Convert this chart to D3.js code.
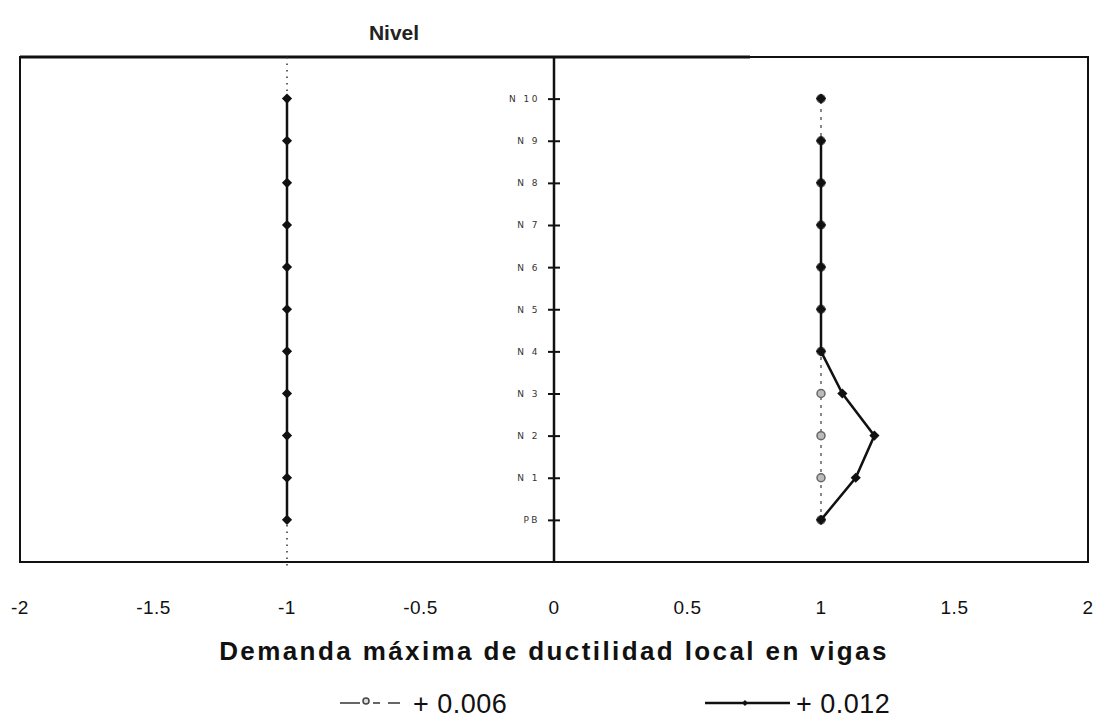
<!DOCTYPE html>
<html><head><meta charset="utf-8">
<script src="https://cdn.jsdelivr.net/npm/d3@7/dist/d3.min.js"></script>
<style>body{margin:0;background:#fff}</style>
</head><body>
<svg id="c" width="1107" height="718"></svg>
<script>
const levels = ["PB","N 1","N 2","N 3","N 4","N 5","N 6","N 7","N 8","N 9","N 10"];
const xTicks = [-2,-1.5,-1,-0.5,0,0.5,1,1.5,2];
const xTickLabels = ["-2","-1.5","-1","-0.5","0","0.5","1","1.5","2"];
// +0.006 series (positive side)
const s006 = [1.0,1.0,1.0,1.0,1.0,1.0,1.0,1.0,1.0,1.0,1.0];
// +0.012 series (positive side)
const s012 = [1.0,1.13,1.2,1.08,1.0,1.0,1.0,1.0,1.0,1.0,1.0];
// negative side values (both series)
const sNeg = [-1,-1,-1,-1,-1,-1,-1,-1,-1,-1,-1];
const legendLabels = ["+ 0.006","+ 0.012"];

const svg = d3.select("#c");
const L=20,R=1088,T=57,B=562;
const x = d3.scaleLinear().domain([-2,2]).range([L,R]);
const y = d3.scaleLinear().domain([0,12]).range([B,T-0.5]);
const FONT = "Liberation Sans, Arial, sans-serif";

// frame
svg.append("rect").attr("x",L).attr("y",T).attr("width",R-L).attr("height",B-T)
  .attr("fill","none").attr("stroke","#111").attr("stroke-width",2);
svg.append("line").attr("x1",L).attr("x2",750).attr("y1",T).attr("y2",T).attr("stroke","#111").attr("stroke-width",3);

// x axis tick labels
svg.selectAll(".xt").data(xTicks).join("text")
  .attr("x",d=>x(d)).attr("y",614).attr("text-anchor","middle")
  .attr("font-family",FONT).attr("font-size",19).attr("letter-spacing","0.5px").attr("fill","#111")
  .text((d,i)=>xTickLabels[i]);

// vertical axis at 0
const yAxis = d3.axisLeft(y).tickValues(d3.range(1,12)).tickSize(0).tickFormat((d)=>levels[d-1]);
const ag = svg.append("g").attr("transform",`translate(${x(0)},0)`).call(yAxis);
ag.select(".domain").remove();
ag.selectAll(".tick line").remove();
ag.selectAll(".tick").append("line").attr("x1",-6).attr("x2",6).attr("stroke","#111").attr("stroke-width",2);
ag.selectAll(".tick text").attr("x",-14).attr("font-family","DejaVu Sans, sans-serif").attr("font-size",9)
  .attr("letter-spacing","2.5px").attr("fill","#333");
svg.append("line").attr("x1",x(0)).attr("x2",x(0)).attr("y1",T).attr("y2",B).attr("stroke","#111").attr("stroke-width",2.5);

// dotted reference at -1
svg.append("line").attr("x1",x(-1)).attr("x2",x(-1)).attr("y1",T).attr("y2",B+4)
  .attr("stroke","#333").attr("stroke-width",1.5).attr("stroke-dasharray","1.5,5");

const line = d3.line().x(d=>x(d[0])).y(d=>y(d[1]));
const diamond = d3.symbol().type(d3.symbolSquare).size(52);

// negative side series
svg.append("path").datum(sNeg.map((v,i)=>[v,i+1])).attr("d",line)
  .attr("fill","none").attr("stroke","#111").attr("stroke-width",2.5);
svg.selectAll(".dn").data(sNeg).join("path")
  .attr("transform",(d,i)=>`translate(${x(d)},${y(i+1)}) rotate(45)`).attr("d",diamond).attr("fill","#111");

// +0.006 series
svg.append("path").datum(s006.map((v,i)=>[v,i+1])).attr("d",line)
  .attr("fill","none").attr("stroke","#888").attr("stroke-width",2).attr("stroke-dasharray","3,5");
svg.selectAll(".c6").data(s006).join("circle")
  .attr("cx",d=>x(d)).attr("cy",(d,i)=>y(i+1)).attr("r",4)
  .attr("fill","#bbb").attr("stroke","#666").attr("stroke-width",1.5);

// +0.012 series (segment N9-N10 not drawn in original)
svg.append("path").datum(s012.slice(0,10).map((v,i)=>[v,i+1])).attr("d",line)
  .attr("fill","none").attr("stroke","#111").attr("stroke-width",2.5);
svg.selectAll(".d12").data(s012).join("path")
  .attr("transform",(d,i)=>`translate(${x(d)},${y(i+1)}) rotate(45)`).attr("d",diamond).attr("fill","#111");

// title
svg.append("text").attr("x",394).attr("y",40).attr("text-anchor","middle")
  .attr("font-family",FONT).attr("font-size",21).attr("font-weight","bold")
  .attr("fill","#222").text("Nivel");

// x label
svg.append("text").attr("x",554).attr("y",660).attr("text-anchor","middle")
  .attr("font-family",FONT).attr("font-size",26).attr("font-weight","bold").attr("letter-spacing","2.4px")
  .attr("fill","#111").text("Demanda máxima de ductilidad local en vigas");

// legend
const lg = svg.append("g");
lg.append("line").attr("x1",340).attr("x2",360).attr("y1",703).attr("y2",703).attr("stroke","#333").attr("stroke-width",1.5);
lg.append("line").attr("x1",373).attr("x2",380).attr("y1",703).attr("y2",703).attr("stroke","#333").attr("stroke-width",1.5);
lg.append("line").attr("x1",388).attr("x2",400).attr("y1",703).attr("y2",703).attr("stroke","#333").attr("stroke-width",1.5);
lg.append("circle").attr("cx",366).attr("cy",701).attr("r",3).attr("fill","#ddd").attr("stroke","#444").attr("stroke-width",1.5);
lg.append("text").attr("x",413).attr("y",713).attr("font-family",FONT)
  .attr("font-size",27).attr("letter-spacing","0.5px").attr("fill","#111").text(legendLabels[0]);
lg.append("line").attr("x1",705).attr("x2",790).attr("y1",703).attr("y2",703)
  .attr("stroke","#111").attr("stroke-width",2.5);
lg.append("path").attr("transform","translate(745,703) rotate(45)").attr("d",d3.symbol().type(d3.symbolSquare).size(18)).attr("fill","#111");
lg.append("text").attr("x",796).attr("y",713).attr("font-family",FONT)
  .attr("font-size",27).attr("letter-spacing","0.5px").attr("fill","#111").text(legendLabels[1]);
</script>
</body></html>
